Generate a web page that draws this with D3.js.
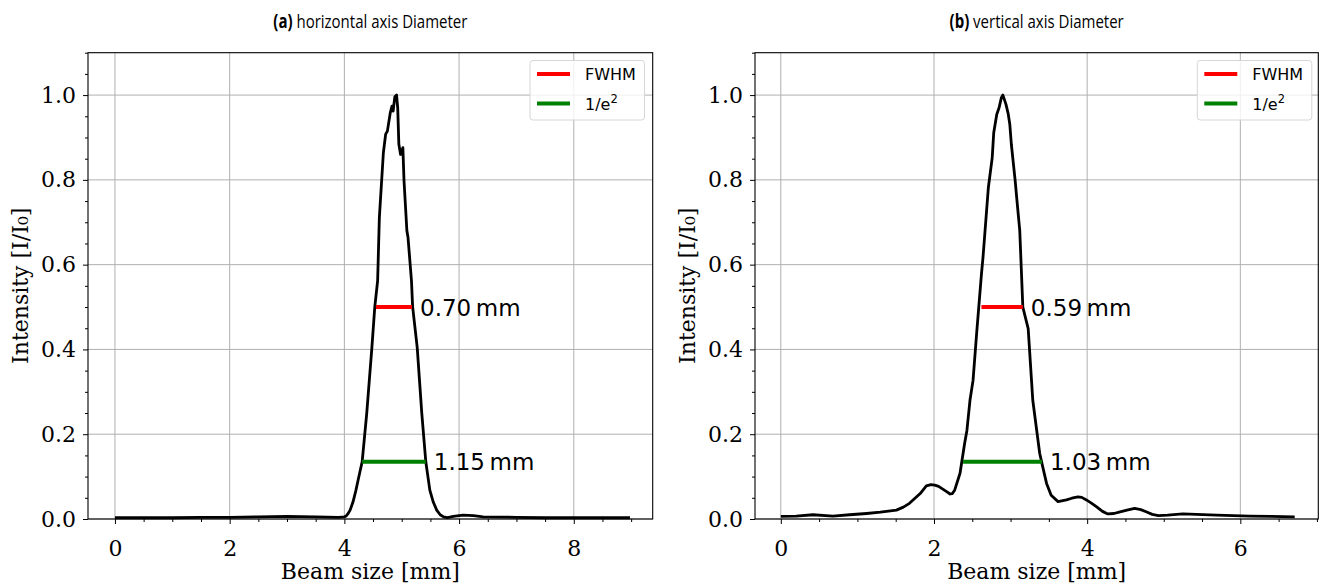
<!DOCTYPE html>
<html><head><meta charset="utf-8">
<script src="https://cdn.jsdelivr.net/npm/d3@7"></script>
<style>
body{margin:0;background:#fff;}
svg{display:block;}
</style></head>
<body>
<svg id="c" width="1324" height="584"></svg>
<script>
// ---------- data ----------
const titlesBold = ["(a)", "(b)"];
const titlesRest = [" horizontal axis Diameter", " vertical axis Diameter"];
const xLabel = "Beam size [mm]";
const yLabel = "Intensity [I/I\u2080]";
const yTicks = [0.0, 0.2, 0.4, 0.6, 0.8, 1.0];
const xTicksA = [0, 2, 4, 6, 8];
const xTicksB = [0, 2, 4, 6];

const profileAx = [0.00,0.50,1.00,1.50,2.00,2.50,3.00,3.50,3.90,4.00,4.03,4.06,4.10,4.15,4.20,4.24,4.31,4.39,4.48,4.53,4.58,4.61,4.68,4.72,4.75,4.80,4.83,4.85,4.88,4.91,4.93,4.95,4.98,5.02,5.04,5.09,5.11,5.17,5.19,5.27,5.35,5.42,5.49,5.55,5.61,5.67,5.73,5.80,5.90,6.07,6.25,6.42,7.00,7.50,8.00,8.50,8.98];
const profileAy = [0.003,0.003,0.003,0.004,0.004,0.005,0.006,0.005,0.004,0.005,0.007,0.012,0.021,0.040,0.067,0.092,0.135,0.249,0.405,0.500,0.562,0.711,0.864,0.908,0.915,0.958,0.974,0.962,0.996,1.000,0.970,0.884,0.860,0.876,0.798,0.680,0.664,0.562,0.501,0.405,0.249,0.135,0.068,0.040,0.021,0.010,0.005,0.003,0.006,0.009,0.008,0.005,0.004,0.003,0.003,0.003,0.003];

const profileBx = [0.00,0.20,0.42,0.68,0.90,1.12,1.30,1.51,1.60,1.68,1.82,1.90,1.96,2.01,2.06,2.12,2.17,2.21,2.24,2.27,2.34,2.40,2.43,2.47,2.51,2.56,2.62,2.64,2.71,2.76,2.78,2.82,2.85,2.88,2.90,2.94,2.97,2.99,3.01,3.06,3.08,3.12,3.16,3.23,3.29,3.38,3.42,3.47,3.53,3.62,3.73,3.80,3.88,3.93,3.99,4.05,4.12,4.20,4.27,4.35,4.43,4.52,4.62,4.70,4.77,4.85,4.93,5.05,5.25,5.69,6.12,6.40,6.71];
const profileBy = [0.006,0.007,0.010,0.007,0.010,0.013,0.016,0.021,0.028,0.037,0.060,0.078,0.081,0.080,0.077,0.070,0.064,0.059,0.060,0.068,0.108,0.178,0.209,0.280,0.327,0.445,0.578,0.617,0.782,0.852,0.911,0.955,0.970,0.994,1.000,0.978,0.955,0.931,0.884,0.798,0.758,0.680,0.500,0.449,0.280,0.155,0.123,0.084,0.056,0.041,0.045,0.049,0.052,0.051,0.045,0.038,0.029,0.018,0.012,0.013,0.017,0.021,0.025,0.022,0.017,0.011,0.008,0.009,0.012,0.009,0.007,0.006,0.005];

const fwhmA = [4.55, 5.18], e2A = [4.31, 5.42];
const fwhmB = [2.62, 3.16], e2B = [2.38, 3.41];
const levelFwhm = 0.5, levelE2 = 0.135;
const labelsFwhm = ["0.70\u2009mm", "0.59\u2009mm"];
const labelsE2 = ["1.15\u2009mm", "1.03\u2009mm"];
const legendNames = ["FWHM", "1/e"];

// ---------- layout ----------
const svg = d3.select("#c");
const panels = [
  {left:88, right:652.7, dom:[-0.47, 9.376], xt:xTicksA, px:profileAx, py:profileAy, fw:fwhmA, e2:e2A, i:0, lx:530},
  {left:755, right:1318.3, dom:[-0.337, 7.018], xt:xTicksB, px:profileBx, py:profileBy, fw:fwhmB, e2:e2B, i:1, lx:1197.3}
];
const plotTop = 52.7, plotBottom = 519;
const y = d3.scaleLinear().domain([0, 1.1]).range([plotBottom, plotTop]);

panels.forEach(p => {
  const x = d3.scaleLinear().domain(p.dom).range([p.left, p.right]);
  const g = svg.append("g");
  const w = p.right - p.left;

  // grid
  g.selectAll(".gx").data(p.xt).enter().append("line")
    .attr("x1", d => x(d)).attr("x2", d => x(d)).attr("y1", plotTop).attr("y2", plotBottom)
    .attr("stroke", "#b0b0b0").attr("stroke-width", 1);
  g.selectAll(".gy").data(yTicks).enter().append("line")
    .attr("x1", p.left).attr("x2", p.right).attr("y1", d => y(d)).attr("y2", d => y(d))
    .attr("stroke", "#b0b0b0").attr("stroke-width", 1);

  // curve
  const pts = p.px.map((v, k) => [v, p.py[k]]);
  g.append("path").datum(pts)
    .attr("d", d3.line().x(d => x(d[0])).y(d => y(d[1])))
    .attr("fill", "none").attr("stroke", "#000").attr("stroke-width", 2.8)
    .attr("stroke-linejoin", "round");

  // width markers
  g.append("line").attr("x1", x(p.fw[0])).attr("x2", x(p.fw[1]))
    .attr("y1", y(levelFwhm)).attr("y2", y(levelFwhm))
    .attr("stroke", "#ff0000").attr("stroke-width", 4);
  g.append("line").attr("x1", x(p.e2[0])).attr("x2", x(p.e2[1]))
    .attr("y1", y(levelE2)).attr("y2", y(levelE2))
    .attr("stroke", "#008000").attr("stroke-width", 4);
  g.append("text").attr("x", x(p.fw[1]) + 8).attr("y", y(levelFwhm) + 8.5)
    .attr("font-family", "DejaVu Sans").attr("font-size", 23).text(labelsFwhm[p.i]);
  g.append("text").attr("x", x(p.e2[1]) + 8).attr("y", y(levelE2) + 8.5)
    .attr("font-family", "DejaVu Sans").attr("font-size", 23).text(labelsE2[p.i]);

  // axes
  const xMinor = d3.range(0, 9.5, 0.5).filter(v => v >= p.dom[0] && v <= p.dom[1] && !p.xt.includes(v));
  const yMinor = d3.range(0, 1.11, 0.05).map(v => +v.toFixed(2)).filter(v => !yTicks.some(t => Math.abs(t - v) < 1e-6));

  const xa = g.append("g").attr("transform", `translate(0,${plotBottom})`)
    .call(d3.axisBottom(x).tickValues(p.xt).tickFormat(d3.format("d")).tickSize(5).tickPadding(16));
  xa.select(".domain").remove();
  xa.selectAll("text").attr("font-family", "DejaVu Serif").attr("font-size", 22).attr("fill", "#000");
  const xm = g.append("g").attr("transform", `translate(0,${plotBottom})`)
    .call(d3.axisBottom(x).tickValues(xMinor).tickFormat("").tickSize(3));
  xm.select(".domain").remove();

  const ya = g.append("g").attr("transform", `translate(${p.left},0)`)
    .call(d3.axisLeft(y).tickValues(yTicks).tickFormat(d3.format(".1f")).tickSize(5).tickPadding(7));
  ya.select(".domain").remove();
  ya.selectAll("text").attr("font-family", "DejaVu Serif").attr("font-size", 22).attr("fill", "#000");
  const ym = g.append("g").attr("transform", `translate(${p.left},0)`)
    .call(d3.axisLeft(y).tickValues(yMinor).tickFormat("").tickSize(3));
  ym.select(".domain").remove();
  g.selectAll(".tick line").attr("stroke", "#000").attr("stroke-width", 1);

  // frame
  g.append("rect").attr("x", p.left).attr("y", plotTop).attr("width", w).attr("height", plotBottom - plotTop)
    .attr("fill", "none").attr("stroke", "#000").attr("stroke-width", 1.1);

  // labels
  g.append("text").attr("x", (p.left + p.right) / 2).attr("y", 579).attr("text-anchor", "middle")
    .attr("font-family", "DejaVu Serif").attr("font-size", 22).text(xLabel);
  g.append("text").attr("transform", `translate(${p.left - 60},${(plotTop + plotBottom) / 2}) rotate(-90)`)
    .attr("text-anchor", "middle")
    .attr("font-family", "DejaVu Serif").attr("font-size", 22).text(yLabel);

  const t = g.append("text")
    .attr("transform", `translate(${(p.left + p.right) / 2},27.5) scale(0.79,1)`)
    .attr("text-anchor", "middle")
    .attr("font-family", "Open Sans").attr("font-size", 19);
  t.append("tspan").attr("font-weight", "bold").text(titlesBold[p.i]);
  t.append("tspan").text(titlesRest[p.i]);

  // legend
  const lg = g.append("g").attr("transform", `translate(${p.lx},60.5)`);
  lg.append("rect").attr("width", 114.5).attr("height", 59.5).attr("rx", 3)
    .attr("fill", "#fff").attr("fill-opacity", 0.8).attr("stroke", "#d6d6d6");
  lg.append("line").attr("x1", 7).attr("x2", 40).attr("y1", 13.5).attr("y2", 13.5)
    .attr("stroke", "#ff0000").attr("stroke-width", 4);
  lg.append("line").attr("x1", 7).attr("x2", 40).attr("y1", 43).attr("y2", 43)
    .attr("stroke", "#008000").attr("stroke-width", 4);
  lg.append("text").attr("x", 55).attr("y", 19.5).attr("font-family", "DejaVu Sans").attr("font-size", 16)
    .text(legendNames[0]);
  const l2 = lg.append("text").attr("x", 55).attr("y", 49).attr("font-family", "DejaVu Sans").attr("font-size", 16);
  l2.append("tspan").text(legendNames[1]);
  l2.append("tspan").attr("dy", -7).attr("font-size", 11.5).text("2");
});
</script>
</body></html>
